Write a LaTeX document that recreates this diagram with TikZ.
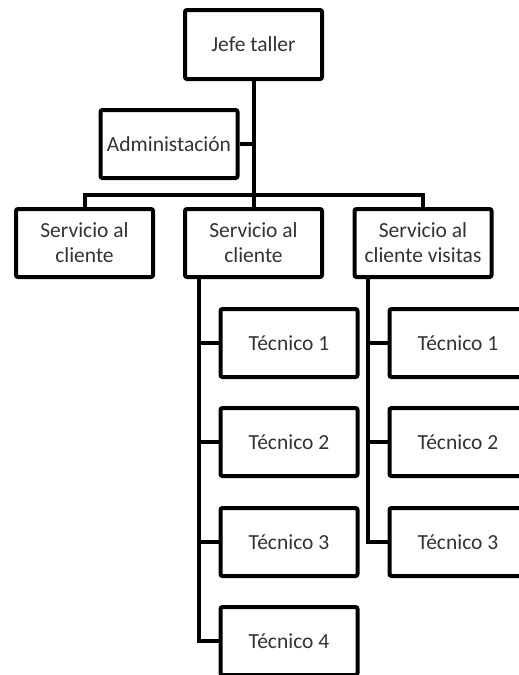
\documentclass[tikz,border=0pt]{standalone}
\usepackage{fontspec}
\setmainfont{Carlito}
\begin{document}
\begin{tikzpicture}[x=1pt,y=-1pt,
  orgbox/.style={draw=black, line width=4pt, rounded corners=2pt, fill=white,
    minimum width=137pt, minimum height=68pt, inner sep=2pt, align=center,
    text=black!80, font=\fontsize{21.5}{25}\selectfont},
  link/.style={draw=black, line width=4pt}]
  \clip (0,0) rectangle (519,675);
  \path[fill=white] (0,0) rectangle (519,675);

  % top level
  \node[orgbox, minimum height=69pt] (jefe) at (253.5,44.5) {Jefe taller};
  \node[orgbox] (admin) at (169,144) {Administación};

  % departments
  \node[orgbox] (s1) at (84.5,243) {Servicio al\\cliente};
  \node[orgbox] (s2) at (253.5,243) {Servicio al\\cliente};
  \node[orgbox] (s3) at (423,243) {Servicio al\\cliente visitas};

  % technicians
  \node[orgbox] (a1) at (289,343) {Técnico 1};
  \node[orgbox] (a2) at (289,442) {Técnico 2};
  \node[orgbox] (a3) at (289,542) {Técnico 3};
  \node[orgbox] (a4) at (289,641) {Técnico 4};
  \node[orgbox] (b1) at (458,343) {Técnico 1};
  \node[orgbox] (b2) at (458,442) {Técnico 2};
  \node[orgbox] (b3) at (458,542) {Técnico 3};

  % connectors
  \coordinate (bus) at (253.5,195);
  \coordinate (spineA) at ([xshift=-54.5pt]s2.south);
  \coordinate (spineB) at ([xshift=-55pt]s3.south);
  \draw[link] (jefe.south) -- (s2.north);
  \draw[link] (admin.east) -- (admin.east -| jefe.south);
  \draw[link] (s1.north) |- (bus) -| (s3.north);
  \draw[link] (spineA) |- (a4.west);
  \draw[link] (a1.west) -- (a1.west -| spineA);
  \draw[link] (a2.west) -- (a2.west -| spineA);
  \draw[link] (a3.west) -- (a3.west -| spineA);
  \draw[link] (spineB) |- (b3.west);
  \draw[link] (b1.west) -- (b1.west -| spineB);
  \draw[link] (b2.west) -- (b2.west -| spineB);
\end{tikzpicture}
\end{document}
